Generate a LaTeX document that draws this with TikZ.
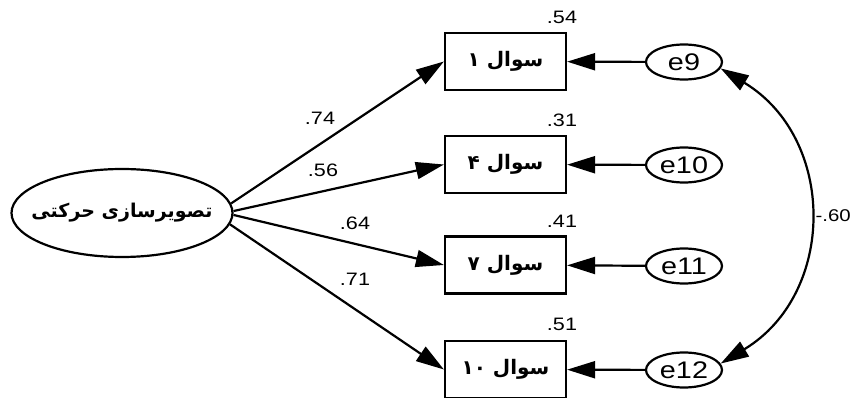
\documentclass[tikz,border=0pt]{standalone}
\usepackage{fontspec}
\setmainfont{Liberation Sans}[FakeStretch=1.2]
\newfontfamily\fa[Script=Arabic]{DejaVu Sans}
\TeXXeTstate=1
\usetikzlibrary{shapes.geometric,arrows.meta}
\begin{document}
\begin{tikzpicture}[x=1pt,y=-1pt,
  lat/.style={ellipse,draw,line width=2.2pt,minimum width=221pt,minimum height=88pt,inner ysep=0pt,inner xsep=-22pt,font=\fa\bfseries\fontsize{19}{22}\selectfont},
  obs/.style={rectangle,draw,line width=2.2pt,minimum width=121pt,minimum height=57pt,inner sep=0pt,font=\fa\bfseries\fontsize{20}{24}\selectfont},
  err/.style={ellipse,draw,line width=2.2pt,minimum width=76pt,minimum height=35pt,inner sep=0pt,font=\fontsize{24}{26}\selectfont},
  num/.style={font=\fontsize{18}{20}\selectfont,inner sep=0pt},
  arr/.style={line width=2.2pt,-{Triangle[length=28pt,width=17pt]}},
  cov/.style={line width=2.2pt,{Triangle[length=28pt,width=17pt]}-{Triangle[length=28pt,width=17pt]}}
]
\useasboundingbox (0,0) rectangle (852,398);
\node[lat] (L) at (122,213) {\beginR تصویرسازی حرکتی\endR};
\node[obs] (b1) at (505.5,61.5) {\beginR سوال \beginL۱\endL\endR};
\node[obs] (b4) at (505.5,164.5) {\beginR سوال \beginL۴\endL\endR};
\node[obs] (b7) at (505.5,265) {\beginR سوال \beginL۷\endL\endR};
\node[obs] (b10) at (505.5,369.5) {\beginR سوال \beginL۱۰\endL\endR};
\node[err] (e9) at (684,62) {e9};
\node[err] (e10) at (684,165) {e10};
\node[err] (e11) at (684,266) {e11};
\node[err] (e12) at (684,370) {e12};
\draw[arr] (L.5) -- (b1.west);
\draw[arr] (L.1.5) -- (b4.west);
\draw[arr] (L.-1.5) -- (b7.west);
\draw[arr] (L.-6) -- (b10.west);
\draw[arr] (e9) -- (b1);
\draw[arr] (e10) -- (b4);
\draw[arr] (e11) -- (b7);
\draw[arr] (e12) -- (b10);
\draw[cov] (e9.-10) .. controls +(116,70) and +(116,-70) .. (e12.10);
\node[num] (l1) at (320,118) {.74};
\node[num] (l4) at (323,170) {.56};
\node[num] (l7) at (355,223) {.64};
\node[num] (l10) at (355,279) {.71};
\node[num] (r1) at (562,17) {.54};
\node[num] (r4) at (562,120) {.31};
\node[num] (r7) at (562,221) {.41};
\node[num] (r10) at (562,324) {.51};
\node[num,anchor=east,font=\fontsize{17}{20}\selectfont] (c) at (851,216) {-.60};
\end{tikzpicture}
\end{document}
